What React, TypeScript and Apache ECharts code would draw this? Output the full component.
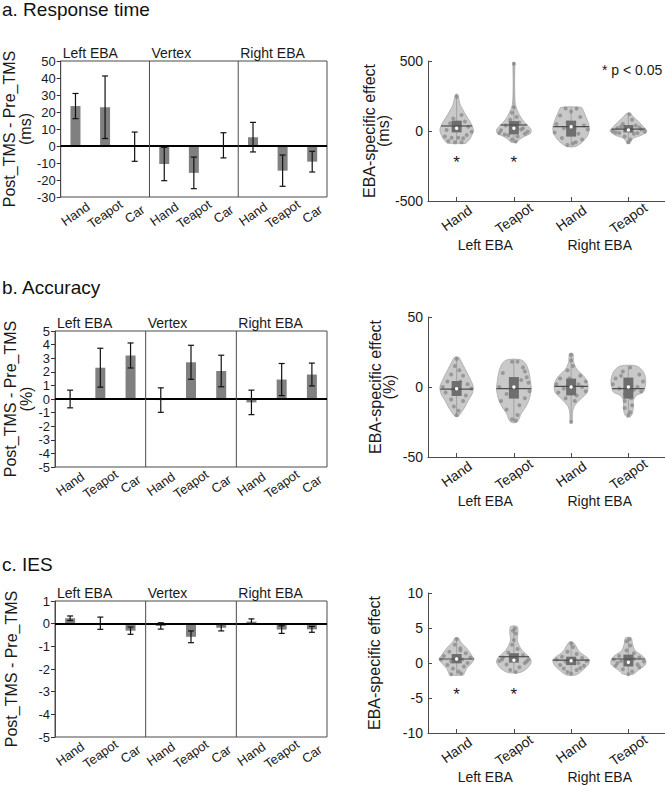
import React, { useEffect, useRef } from 'react';
import * as echarts from 'echarts';

const FONT = '"Liberation Sans", Arial, Helvetica, sans-serif';
const TEXT = '#1a1a1a';
const AXIS = '#4a4a4a';

// ---------- bar charts (left column) ----------
const BAR_CATEGORIES = ['Hand', 'Teapot', 'Car', 'Hand', 'Teapot', 'Car', 'Hand', 'Teapot', 'Car'];
const BAR_PANELS = ['Left EBA', 'Vertex', 'Right EBA'];
const BAR_PANEL_START = [0, 3, 6];

const RT_MEAN = [23.5, 22.8, -0.4, -10.6, -15.8, 0.4, 5.2, -14.5, -9.2];
const RT_ERR = [7.4, 18.4, 8.6, 9.8, 9.3, 7.4, 8.7, 9.2, 6.1];
const ACC_MEAN = [0.0, 2.3, 3.2, -0.08, 2.7, 2.06, -0.25, 1.43, 1.8];
const ACC_ERR = [0.65, 1.43, 0.92, 0.9, 1.25, 1.16, 0.9, 1.18, 0.84];
const IES_MEAN = [0.24, 0.02, -0.31, -0.1, -0.58, -0.18, 0.09, -0.26, -0.25];
const IES_ERR = [0.1, 0.27, 0.16, 0.14, 0.26, 0.14, 0.12, 0.17, 0.13];

const RT_TICKS = [-30, 50, 10];
const ACC_TICKS = [-5, 5, 1];
const IES_TICKS = [-5, 1, 1];

// ---------- violin plots (right column) ----------
const VIOLIN_CATEGORIES = ['Hand', 'Teapot', 'Hand', 'Teapot'];
const VIOLIN_GROUPS = ['Left EBA', 'Right EBA'];

const RT_V_TICKS = [-500, 500, 500];
const ACC_V_TICKS = [-50, 50, 50];
const IES_V_TICKS = [-10, 10, 5];

// profiles: [value, relative half-width]
const RT_V_PROFILE = [
  [[262, 0.06], [230, 0.12], [186, 0.2], [150, 0.35], [114, 0.5], [67, 0.73], [30, 0.87], [0, 0.91], [-52, 0.75], [-75, 0.6], [-88, 0.5]],
  [[490, 0.04], [460, 0.05], [350, 0.04], [250, 0.05], [190, 0.08], [160, 0.15], [130, 0.25], [102, 0.36], [67, 0.55], [31, 0.82], [7, 0.95], [-17, 0.9], [-40, 0.55], [-62, 0.3], [-81, 0.15]],
  [[169, 0.55], [150, 0.65], [126, 0.73], [67, 0.91], [19, 1.0], [-29, 0.91], [-76, 0.64], [-100, 0.4], [-112, 0.22]],
  [[126, 0.09], [102, 0.27], [67, 0.55], [31, 0.82], [0, 1.0], [-29, 0.73], [-52, 0.27], [-75, 0.12], [-88, 0.09]],
];
const RT_V_MEAN = [36, 43, 31, 14];
const RT_V_MEDIAN = [19, 19, 31, 7];
const RT_V_Q1 = [-10, -24, -40, -10];
const RT_V_Q3 = [74, 71, 74, 43];
const RT_V_DOTS = [
  [[0, 245], [-0.18, 90], [0.27, 114], [-0.36, 55], [0.45, 67], [0.64, 31], [-0.55, 7], [0.82, -5], [-0.64, -40], [-0.27, -48], [0.09, -48], [0.36, -52], [-0.09, -81], [0.27, -81], [-0.45, -71], [0.55, -29], [0.18, 55], [-0.13, 31]],
  [[0, 480], [0, 170], [-0.1, 130], [0.15, 100], [-0.2, 80], [0.3, 60], [-0.45, 40], [0.5, 20], [-0.7, 5], [0.75, -5], [-0.8, -15], [0.6, -20], [-0.3, -30], [0.2, -40], [-0.1, -60], [0.1, -75], [0.4, 10], [-0.5, -25]],
  [[0.3, 160], [-0.3, 160], [0, 140], [-0.6, 110], [0.5, 100], [-0.8, 50], [0.7, 40], [-0.2, 60], [0.9, 10], [-0.9, -10], [0.4, -20], [-0.5, -50], [0.6, -60], [0.1, -90], [-0.2, -100], [0.25, -80], [-0.4, 20], [0.2, 20]],
  [[0.05, 120], [0.2, 80], [-0.3, 50], [0.4, 40], [-0.6, 20], [0.7, 10], [-0.85, 0], [0.9, -5], [-0.5, -15], [0.3, -20], [-0.2, -40], [0.1, -60], [0, -80], [0.6, 25], [-0.7, -10], [0.5, -15], [-0.4, 30], [0.15, 0]],
];
const RT_V_SIG = [[0, -200], [1, -200]];

const ACC_V_PROFILE = [
  [[21.4, 0.1], [20, 0.18], [15.5, 0.36], [10.7, 0.55], [6, 0.73], [0, 0.91], [-4.8, 0.85], [-9.5, 0.64], [-14.3, 0.45], [-17.9, 0.27], [-21, 0.09]],
  [[19.5, 0.36], [16.7, 0.64], [10.7, 0.82], [3.6, 0.91], [-1.2, 0.95], [-4.8, 0.91], [-9.5, 0.82], [-14.3, 0.64], [-19, 0.4], [-25, 0.18]],
  [[23.8, 0.09], [20, 0.12], [17.9, 0.13], [14, 0.25], [11.9, 0.36], [7.1, 0.73], [2.4, 0.91], [-2.4, 0.91], [-4.8, 0.82], [-9.5, 0.45], [-14.3, 0.15], [-19, 0.07], [-25, 0.05]],
  [[15, 0.45], [10.7, 0.82], [4.8, 0.95], [0, 0.91], [-3.6, 0.82], [-6, 0.45], [-9.5, 0.27], [-14.3, 0.27], [-19, 0.22], [-21.4, 0.09]],
];
const ACC_V_MEAN = [-1.5, -1.2, 0.5, -1.2];
const ACC_V_MEDIAN = [-1.2, 0, 0, 0];
const ACC_V_Q1 = [-6.4, -8.3, -6, -8.3];
const ACC_V_Q3 = [4.3, 7.1, 6, 6.7];
const ACC_V_DOTS = [
  [[0, 20], [-0.1, 15], [0.15, 12], [-0.3, 9], [0.35, 8], [-0.5, 4], [0.6, 2], [-0.75, 0], [0.8, -1], [-0.6, -4], [0.5, -6], [-0.3, -9], [0.35, -10], [-0.15, -14], [0.1, -17], [0, -20], [0.2, 4], [-0.2, -2]],
  [[0.2, 18], [-0.1, 18], [0.5, 14], [0.6, 11], [-0.6, 10], [0.7, 7], [0.8, 3], [-0.8, 0], [0.85, -3], [-0.4, -5], [0.6, -8], [-0.7, -10], [0.3, -13], [-0.4, -16], [0.2, -20], [-0.1, -23], [0.1, -24], [0.4, 5]],
  [[0, 23], [0, 19], [0.1, 15], [-0.2, 12], [0.5, 8], [-0.6, 6], [0.8, 4], [-0.8, 2], [0.6, 0], [-0.4, -1], [0.8, -3], [-0.7, -4], [0.3, -6], [-0.3, -8], [0.2, -10], [0, -25], [0.4, 2], [-0.1, 6]],
  [[0.1, 14], [-0.3, 11], [0.6, 9], [-0.7, 6], [0.8, 4], [-0.85, 2], [0.5, 0], [-0.5, -1], [0.7, -3], [-0.2, -5], [0.15, -8], [-0.2, -10], [0.2, -13], [-0.2, -15], [0, -20], [0.1, -18], [-0.4, 8], [0.3, -2]],
];

const IES_V_PROFILE = [
  [[3.6, 0.09], [3.0, 0.22], [2.1, 0.55], [1.1, 0.82], [0.57, 0.95], [0, 0.82], [-0.76, 0.55], [-1.3, 0.45], [-1.7, 0.36]],
  [[5.2, 0.18], [4.2, 0.22], [3.3, 0.18], [2.6, 0.27], [1.8, 0.45], [0.9, 0.82], [0.2, 0.95], [-0.5, 0.82], [-1.1, 0.55], [-1.4, 0.27]],
  [[3.0, 0.09], [2.6, 0.22], [1.6, 0.45], [0.9, 0.82], [0.4, 1.0], [-0.3, 0.91], [-1.0, 0.64], [-1.7, 0.27]],
  [[3.6, 0.15], [2.8, 0.22], [1.8, 0.36], [1.1, 0.73], [0.4, 0.95], [-0.3, 0.91], [-1.0, 0.55], [-1.6, 0.27]],
];
const IES_V_MEAN = [0.57, 0.9, 0.4, 0.57];
const IES_V_MEDIAN = [0.57, 0.4, 0.33, 0.1];
const IES_V_Q1 = [-0.05, 0.05, -0.3, -0.5];
const IES_V_Q3 = [1.28, 1.4, 0.9, 1.2];
const IES_V_DOTS = [
  [[0, 3.4], [-0.1, 2.6], [0.2, 2.1], [-0.4, 1.6], [0.5, 1.4], [-0.7, 1.0], [0.75, 0.8], [-0.85, 0.5], [0.3, 0.5], [-0.3, 0.2], [0.6, 0], [-0.5, -0.3], [0.4, -0.5], [-0.2, -0.8], [0.1, -1.2], [-0.3, -1.6], [0.25, -1.5], [0.2, 1.8]],
  [[0.05, 4.9], [-0.05, 4.6], [0.1, 4.2], [0, 3.3], [-0.1, 2.6], [0.2, 2.0], [-0.3, 1.5], [0.5, 1.1], [-0.6, 0.8], [0.8, 0.5], [-0.8, 0.3], [0.6, 0], [-0.4, -0.2], [0.3, -0.6], [-0.2, -1.0], [0.1, -1.3], [0.7, 0.2], [-0.65, 0.5]],
  [[0, 2.8], [0.1, 2.3], [-0.2, 1.6], [0.3, 1.3], [-0.5, 0.9], [0.6, 0.7], [-0.8, 0.5], [0.85, 0.3], [-0.3, 0.2], [0.4, 0], [-0.6, -0.3], [0.7, -0.4], [-0.4, -0.8], [0.3, -1.0], [0, -1.5], [-0.2, -1.3], [0.5, -0.7], [0.2, 0.5]],
  [[0.05, 3.4], [-0.1, 3.1], [0.1, 2.5], [-0.1, 1.8], [0.3, 1.4], [-0.5, 1.0], [0.6, 0.8], [-0.8, 0.5], [0.85, 0.2], [-0.6, 0], [0.5, -0.2], [-0.7, -0.4], [0.6, -0.6], [-0.3, -0.9], [0.2, -1.2], [0, -1.6], [-0.4, 0.3], [0.3, 0.6]],
];
const IES_V_SIG = [[0, -4.1], [1, -4.1]];

const TITLES = ['a. Response time', 'b. Accuracy', 'c. IES'];

// ---------- layout / style constants ----------
const BAR_GRIDS = [
  { left: 55, top: 61, width: 272, height: 136 },
  { left: 55, top: 331, width: 272, height: 136 },
  { left: 55, top: 601, width: 272, height: 136 },
];
const VIOLIN_GRIDS = [
  { left: 428, top: 61, width: 229, height: 140 },
  { left: 428, top: 317, width: 229, height: 140 },
  { left: 428, top: 593, width: 229, height: 140 },
];
const TITLE_TOPS = [0, 278, 555];
const VIOLIN_HALF = 0.32;

function densityAt(prof: number[][], v: number) {
  for (let j = 0; j < prof.length - 1; j++) {
    const [v0, d0] = prof[j];
    const [v1, d1] = prof[j + 1];
    if ((v <= v0 && v >= v1) || (v >= v0 && v <= v1)) {
      const t = v0 === v1 ? 0 : (v - v0) / (v1 - v0);
      return d0 + t * (d1 - d0);
    }
  }
  return 0;
}

function buildOption() {
  const grid: any[] = [];
  const xAxis: any[] = [];
  const yAxis: any[] = [];
  const series: any[] = [];

  const barDefs = [
    { mean: RT_MEAN, err: RT_ERR, ticks: RT_TICKS, name: 'Post_TMS - Pre_TMS\n(ms)', gap: 20 },
    { mean: ACC_MEAN, err: ACC_ERR, ticks: ACC_TICKS, name: 'Post_TMS - Pre_TMS\n(%)', gap: 20 },
    { mean: IES_MEAN, err: IES_ERR, ticks: IES_TICKS, name: 'Post_TMS - Pre_TMS', gap: 36 },
  ];

  barDefs.forEach((d, k) => {
    grid.push({ ...BAR_GRIDS[k], show: true, borderColor: AXIS, borderWidth: 1, backgroundColor: 'transparent' });
    xAxis.push({
      type: 'category', gridIndex: k, data: BAR_CATEGORIES, position: 'bottom',
      axisLine: { show: false, onZero: false }, axisTick: { show: false }, splitLine: { show: false },
      axisLabel: { interval: 0, rotate: 35, align: 'center', verticalAlign: 'middle', margin: 17, fontSize: 13, color: TEXT, fontFamily: FONT },
    });
    yAxis.push({
      type: 'value', gridIndex: k, min: d.ticks[0], max: d.ticks[1], interval: d.ticks[2],
      axisLine: { show: true, lineStyle: { color: AXIS } },
      axisTick: { show: true, inside: false, length: 4, lineStyle: { color: '#333' } },
      axisLabel: { margin: 5, fontSize: 13, color: TEXT, fontFamily: FONT },
      splitLine: { show: false },
      name: d.name, nameLocation: 'middle', nameGap: d.gap, nameRotate: 90,
      nameTextStyle: { fontSize: 16, lineHeight: 16, color: TEXT, fontFamily: FONT },
    });
    series.push({
      type: 'bar', xAxisIndex: k, yAxisIndex: k, data: d.mean, barWidth: 10,
      itemStyle: { color: '#808080' }, z: 2,
      markLine: {
        silent: true, symbol: ['none', 'none'], label: { show: false },
        lineStyle: { color: '#000', width: 2, type: 'solid' },
        data: [{ yAxis: 0 }],
      },
    });
    series.push({
      type: 'custom', xAxisIndex: k, yAxisIndex: k, z: 5, clip: false,
      data: d.mean.map((m, i) => [i, m - d.err[i], m + d.err[i]]),
      renderItem: (params: any, api: any) => {
        const x = api.value(0);
        const lo = api.coord([x, api.value(1)]);
        const hi = api.coord([x, api.value(2)]);
        const st = { stroke: '#111', lineWidth: 1.2 };
        return {
          type: 'group', children: [
            { type: 'line', shape: { x1: lo[0], y1: lo[1], x2: hi[0], y2: hi[1] }, style: st },
            { type: 'line', shape: { x1: hi[0] - 3, y1: hi[1], x2: hi[0] + 3, y2: hi[1] }, style: st },
            { type: 'line', shape: { x1: lo[0] - 3, y1: lo[1], x2: lo[0] + 3, y2: lo[1] }, style: st },
          ],
        };
      },
    });
    series.push({
      type: 'custom', xAxisIndex: k, yAxisIndex: k, z: 6, clip: false, silent: true,
      data: BAR_PANEL_START.map((s) => [s, 0]),
      renderItem: (params: any, api: any) => {
        const idx = api.value(0);
        const cs = params.coordSys;
        const band = api.size([1, 0])[0];
        const bx = api.coord([idx, 0])[0] - band / 2;
        const children: any[] = [
          {
            type: 'text',
            style: { text: BAR_PANELS[params.dataIndex], x: bx + 2, y: cs.y - 1, align: 'left', verticalAlign: 'bottom', fontSize: 14, fontFamily: FONT, fill: TEXT },
          },
        ];
        if (idx > 0) {
          children.push({ type: 'line', shape: { x1: bx, y1: cs.y, x2: bx, y2: cs.y + cs.height }, style: { stroke: AXIS, lineWidth: 1 } });
        }
        return { type: 'group', children };
      },
    });
  });

  const violinDefs = [
    { ticks: RT_V_TICKS, prof: RT_V_PROFILE, mean: RT_V_MEAN, med: RT_V_MEDIAN, q1: RT_V_Q1, q3: RT_V_Q3, dots: RT_V_DOTS, sig: RT_V_SIG, name: 'EBA-specific effect\n(ms)', gap: 32 },
    { ticks: ACC_V_TICKS, prof: ACC_V_PROFILE, mean: ACC_V_MEAN, med: ACC_V_MEDIAN, q1: ACC_V_Q1, q3: ACC_V_Q3, dots: ACC_V_DOTS, sig: [], name: 'EBA-specific effect\n(%)', gap: 32 },
    { ticks: IES_V_TICKS, prof: IES_V_PROFILE, mean: IES_V_MEAN, med: IES_V_MEDIAN, q1: IES_V_Q1, q3: IES_V_Q3, dots: IES_V_DOTS, sig: IES_V_SIG, name: 'EBA-specific effect', gap: 47 },
  ];

  violinDefs.forEach((d, k) => {
    const gi = 3 + k;
    const xi = 3 + 2 * k;
    grid.push({ ...VIOLIN_GRIDS[k] });
    xAxis.push({
      type: 'category', gridIndex: gi, data: VIOLIN_CATEGORIES, position: 'bottom',
      axisLine: { show: true, onZero: false, lineStyle: { color: AXIS } },
      axisTick: { show: true, inside: true, length: 4, alignWithLabel: true, lineStyle: { color: AXIS } },
      splitLine: { show: false },
      axisLabel: { interval: 0, rotate: 35, align: 'center', verticalAlign: 'middle', margin: 17, fontSize: 14, color: TEXT, fontFamily: FONT },
    });
    xAxis.push({
      type: 'category', gridIndex: gi, data: VIOLIN_GROUPS, position: 'bottom',
      axisLine: { show: false, onZero: false }, axisTick: { show: false }, splitLine: { show: false },
      axisLabel: { interval: 0, margin: 37, fontSize: 14, color: TEXT, fontFamily: FONT },
    });
    yAxis.push({
      type: 'value', gridIndex: gi, min: d.ticks[0], max: d.ticks[1], interval: d.ticks[2],
      axisLine: { show: true, lineStyle: { color: AXIS } },
      axisTick: { show: true, inside: true, length: 4, lineStyle: { color: AXIS } },
      axisLabel: { margin: 5, fontSize: 14, color: TEXT, fontFamily: FONT },
      splitLine: { show: false },
      name: d.name, nameLocation: 'middle', nameGap: d.gap, nameRotate: 90,
      nameTextStyle: { fontSize: 16, lineHeight: 14, color: TEXT, fontFamily: FONT },
    });
    // violin shapes
    series.push({
      type: 'custom', xAxisIndex: xi, yAxisIndex: gi, z: 2, clip: false, silent: true,
      data: VIOLIN_CATEGORIES.map((_, i) => [i, 0]),
      renderItem: (params: any, api: any) => {
        const i = params.dataIndex;
        const cat = api.value(0);
        const hw = api.size([1, 0])[0] * VIOLIN_HALF;
        const cx = api.coord([cat, 0])[0];
        const prof = d.prof[i];
        const pts: number[][] = [];
        prof.forEach(([v, w]) => pts.push([cx + w * hw, api.coord([cat, v])[1]]));
        for (let j = prof.length - 1; j >= 0; j--) pts.push([cx - prof[j][1] * hw, api.coord([cat, prof[j][0]])[1]]);
        const top = api.coord([cat, prof[0][0]])[1];
        const bottom = api.coord([cat, prof[prof.length - 1][0]])[1];
        return {
          type: 'group', children: [
            { type: 'polygon', shape: { points: pts, smooth: 0.3 }, style: { fill: '#c9c9c9', stroke: '#a8a8a8', lineWidth: 0.8 } },
            { type: 'line', shape: { x1: cx, y1: top, x2: cx, y2: bottom }, style: { stroke: '#a3a3a3', lineWidth: 1 } },
          ],
        };
      },
    });
    // individual points
    const dotData: number[][] = [];
    d.dots.forEach((arr, i) => arr.forEach(([dx, v]) => dotData.push([i, dx, v])));
    series.push({
      type: 'custom', xAxisIndex: xi, yAxisIndex: gi, z: 3, clip: false, silent: true,
      data: dotData,
      renderItem: (params: any, api: any) => {
        const hw = api.size([1, 0])[0] * VIOLIN_HALF;
        const p = api.coord([api.value(0), api.value(2)]);
        return { type: 'circle', shape: { cx: p[0] + api.value(1) * hw, cy: p[1], r: 2 }, style: { fill: 'rgba(135,135,135,0.75)' } };
      },
    });
    // box, mean line, median
    series.push({
      type: 'custom', xAxisIndex: xi, yAxisIndex: gi, z: 4, clip: false, silent: true,
      data: VIOLIN_CATEGORIES.map((_, i) => [i, d.mean[i], d.med[i], d.q1[i], d.q3[i]]),
      renderItem: (params: any, api: any) => {
        const i = params.dataIndex;
        const cat = api.value(0);
        const hw = api.size([1, 0])[0] * VIOLIN_HALF;
        const cx = api.coord([cat, 0])[0];
        const yMean = api.coord([cat, api.value(1)])[1];
        const yMed = api.coord([cat, api.value(2)])[1];
        const yQ1 = api.coord([cat, api.value(3)])[1];
        const yQ3 = api.coord([cat, api.value(4)])[1];
        const w = densityAt(d.prof[i], api.value(1)) * hw;
        return {
          type: 'group', children: [
            { type: 'rect', shape: { x: cx - 5, y: yQ3, width: 10, height: yQ1 - yQ3 }, style: { fill: '#6e6e6e' } },
            { type: 'line', shape: { x1: cx - w, y1: yMean, x2: cx + w, y2: yMean }, style: { stroke: '#4d4d4d', lineWidth: 1.2 } },
            { type: 'circle', shape: { cx, cy: yMed, r: 1.7 }, style: { fill: '#ffffff' } },
          ],
        };
      },
    });
    if (d.sig.length) {
      series.push({
        type: 'custom', xAxisIndex: xi, yAxisIndex: gi, z: 5, clip: false, silent: true,
        data: d.sig,
        renderItem: (params: any, api: any) => {
          const p = api.coord([api.value(0), api.value(1)]);
          return { type: 'text', style: { text: '*', x: p[0], y: p[1] + 3, align: 'center', verticalAlign: 'middle', fontSize: 17, fontFamily: FONT, fill: TEXT } };
        },
      });
    }
  });

  const title = TITLES.map((t, k) => ({
    text: t, left: 2, top: TITLE_TOPS[k], padding: 0,
    textStyle: { fontSize: 19, fontWeight: 'normal', color: '#111', fontFamily: FONT },
  }));

  const graphic: any[] = [
    { type: 'text', x: 602, y: 70, style: { text: '* p < 0.05', fontSize: 14, fontFamily: FONT, fill: TEXT, verticalAlign: 'middle' } },
  ];
  VIOLIN_GRIDS.forEach((g) => {
    const y = g.top + g.height + 0.5;
    graphic.push({ type: 'line', shape: { x1: g.left + g.width, y1: y, x2: 665, y2: y }, style: { stroke: AXIS, lineWidth: 1 } });
  });

  return {
    animation: false,
    backgroundColor: '#ffffff',
    textStyle: { fontFamily: FONT },
    title, grid, xAxis, yAxis, series, graphic,
  };
}

export default function App() {
  const ref = useRef<HTMLDivElement>(null);
  useEffect(() => {
    if (!ref.current) return;
    const chart = echarts.init(ref.current, undefined, { renderer: 'svg' });
    chart.setOption(buildOption() as any);
    return () => chart.dispose();
  }, []);
  return <div ref={ref} style={{ position: 'absolute', left: 0, top: 0, width: 666, height: 786 }} />;
}
